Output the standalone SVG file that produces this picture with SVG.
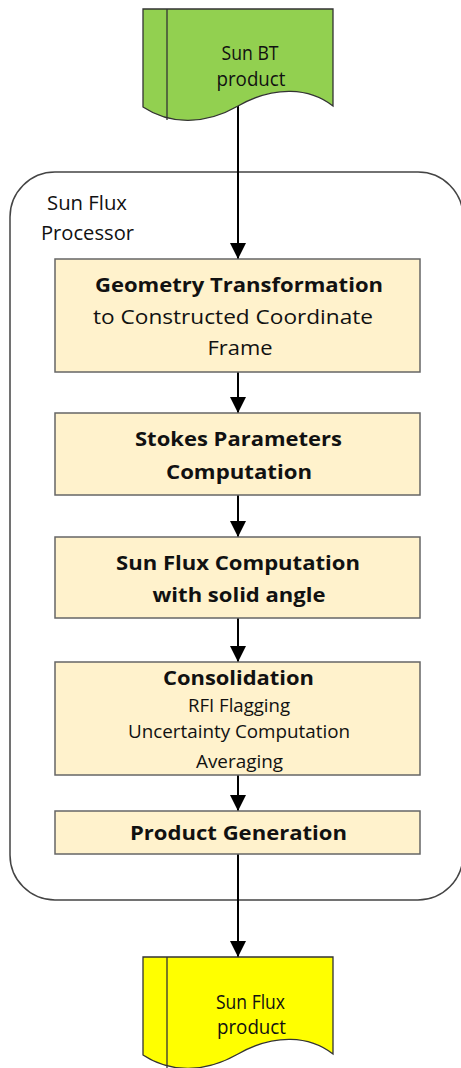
<svg xmlns="http://www.w3.org/2000/svg" width="461" height="1068" viewBox="0 0 461 1068">
<style>
text{font-family:"Open Sans","Liberation Sans",sans-serif;fill:#111;text-anchor:middle}
.b{font-weight:bold;font-size:20px}
.r{font-size:20px}
.s{font-size:18px}
.box{fill:#FFF2CC;stroke:#666;stroke-width:1.5}
.doc{stroke:#333;stroke-width:1.3}
.conn{stroke:#000;stroke-width:2;fill:none}
</style>
<defs>
<marker id="ah" markerUnits="userSpaceOnUse" markerWidth="17" markerHeight="16" refX="16" refY="8" orient="auto" viewBox="0 0 17 16">
<path d="M0,0 L16,8 L0,16 Z" fill="#000"/>
</marker>
</defs>
<g id="container">
<rect x="10" y="172" width="453" height="728" rx="45" ry="45" fill="#fff" stroke="#444" stroke-width="1.5"/>
<text class="r" x="87" y="210" textLength="80" lengthAdjust="spacingAndGlyphs">Sun Flux</text>
<text class="r" x="87.5" y="240" textLength="93" lengthAdjust="spacingAndGlyphs">Processor</text>
</g>
<g id="connectors">
<line class="conn" x1="238" y1="100" x2="238" y2="259" marker-end="url(#ah)"/>
<line class="conn" x1="238" y1="372" x2="238" y2="413" marker-end="url(#ah)"/>
<line class="conn" x1="238" y1="495" x2="238" y2="537" marker-end="url(#ah)"/>
<line class="conn" x1="238" y1="618" x2="238" y2="662" marker-end="url(#ah)"/>
<line class="conn" x1="238" y1="775" x2="238" y2="811" marker-end="url(#ah)"/>
<line class="conn" x1="238" y1="854" x2="238" y2="957" marker-end="url(#ah)"/>
</g>
<g id="sun-bt-product">
<path class="doc" fill="#92D050" d="M143,9 H333 V106 C310,88 275,85 238,106 C205,125 170,125 143,107 Z"/>
<line class="doc" x1="167" y1="9" x2="167" y2="120"/>
<text class="r" x="250" y="60" textLength="57" lengthAdjust="spacingAndGlyphs">Sun BT</text>
<text class="r" x="251" y="86" textLength="69" lengthAdjust="spacingAndGlyphs">product</text>
</g>
<g id="geometry">
<rect class="box" x="55" y="259" width="365" height="113"/>
<text class="b" x="239" y="292" textLength="288" lengthAdjust="spacingAndGlyphs">Geometry Transformation</text>
<text class="r" x="233" y="324" textLength="280" lengthAdjust="spacingAndGlyphs">to Constructed Coordinate</text>
<text class="r" x="240" y="355" textLength="65" lengthAdjust="spacingAndGlyphs">Frame</text>
</g>
<g id="stokes">
<rect class="box" x="55" y="413" width="365" height="82"/>
<text class="b" x="238.5" y="446" textLength="207" lengthAdjust="spacingAndGlyphs">Stokes Parameters</text>
<text class="b" x="239" y="479" textLength="146" lengthAdjust="spacingAndGlyphs">Computation</text>
</g>
<g id="sunflux">
<rect class="box" x="55" y="537" width="365" height="81"/>
<text class="b" x="238" y="570" textLength="244" lengthAdjust="spacingAndGlyphs">Sun Flux Computation</text>
<text class="b" x="239" y="602" textLength="173" lengthAdjust="spacingAndGlyphs">with solid angle</text>
</g>
<g id="consolidation">
<rect class="box" x="55" y="662" width="365" height="113"/>
<text class="b" x="238.5" y="685" textLength="151" lengthAdjust="spacingAndGlyphs">Consolidation</text>
<text class="s" x="239" y="712" textLength="102" lengthAdjust="spacingAndGlyphs">RFI Flagging</text>
<text class="s" x="239" y="738" textLength="222" lengthAdjust="spacingAndGlyphs">Uncertainty Computation</text>
<text class="s" x="239.5" y="768" textLength="87" lengthAdjust="spacingAndGlyphs">Averaging</text>
</g>
<g id="product-generation">
<rect class="box" x="55" y="811" width="365" height="43"/>
<text class="b" x="238.5" y="840" textLength="217" lengthAdjust="spacingAndGlyphs">Product Generation</text>
</g>
<g id="sun-flux-product">
<path class="doc" fill="#FFFF00" d="M143,957 H333 V1054 C310,1036 275,1033 238,1054 C205,1073 170,1073 143,1055 Z"/>
<line class="doc" x1="167" y1="957" x2="167" y2="1068"/>
<text class="r" x="250.5" y="1009" textLength="69" lengthAdjust="spacingAndGlyphs">Sun Flux</text>
<text class="r" x="251.5" y="1034" textLength="69" lengthAdjust="spacingAndGlyphs">product</text>
</g>
</svg>
